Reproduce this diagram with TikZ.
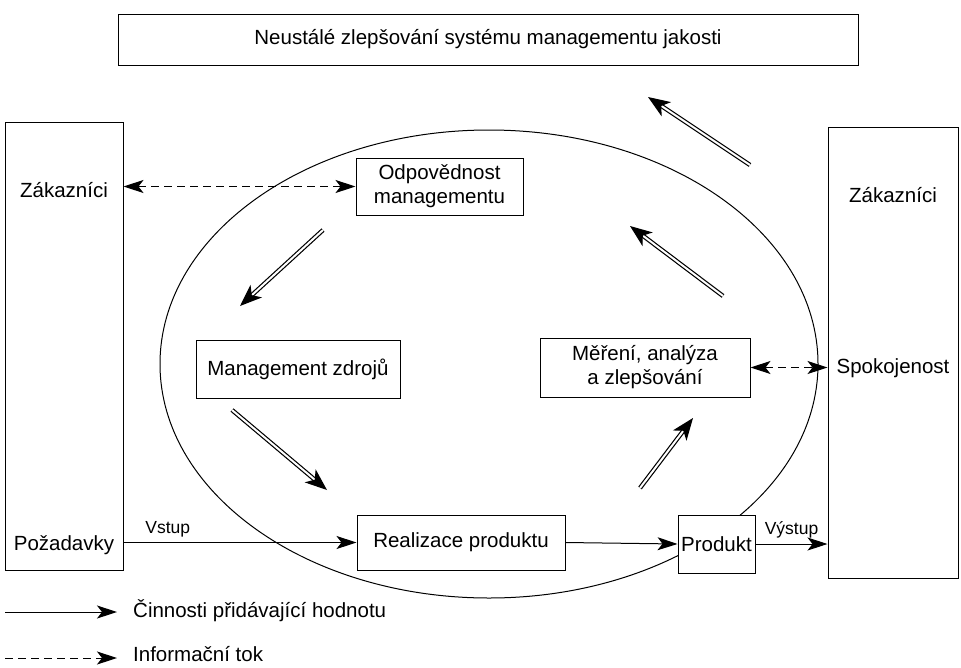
\documentclass[tikz,border=0pt]{standalone}
\usepackage{fontspec}
\setmainfont{Liberation Sans}
\usetikzlibrary{arrows.meta}

\begin{document}
\begin{tikzpicture}[x=1pt,y=-1pt,
		box/.style={draw, line width=1pt, fill=white, inner sep=0pt, align=center},
		txt/.style={inner sep=0pt, align=center},
		tip/.style={-{Stealth[length=20pt,width=13pt,inset=5pt]}},
		dtip/.style={{Stealth[length=20pt,width=13pt,inset=5pt]}-{Stealth[length=20pt,width=13pt,inset=5pt]}},
		info/.style={dash pattern=on 8pt off 5pt},
		dbl/.style={double, double distance=2pt, line width=1.2pt, -{Stealth[length=22pt,width=17pt,inset=6pt]}}]
	\fontsize{20.5}{24}\selectfont
	\useasboundingbox (0,0) rectangle (961,667);
	\draw[line width=1pt] (489,364) ellipse [x radius=329, y radius=234];
	\node[box, minimum width=740, minimum height=51] (top) at (488,39.5) {Neustálé zlepšování systému managementu jakosti};
	\node[box, minimum width=118, minimum height=448] (custL) at (64,346) {};
	\node[box, minimum width=130, minimum height=451] (custR) at (893,352.5) {};
	\node[txt] (zakL) at (64,190) {Zákazníci};
	\node[txt] (pozad) at (64,545) {Požadavky};
	\node[txt] (zakR) at (893,195) {Zákazníci};
	\node[txt] (spok) at (893,368) {Spokojenost};
	\node[box, minimum width=167, minimum height=57] (odp) at (439.5,186.5) {Odpovědnost\\managementu};
	\node[box, minimum width=204, minimum height=58] (mzdr) at (298,369) {Management zdrojů};
	\node[box, minimum width=210, minimum height=59] (mer) at (645,367.5) {Měření, analýza\\a zlepšování};
	\node[box, minimum width=208, minimum height=55] (real) at (461,542.5) {Realizace produktu};
	\node[box, minimum width=77, minimum height=58] (prod) at (716.5,544) {Produkt};
	% informacni toky
	\draw[info, dtip, line width=1pt] (custL.east |- odp.west) -- (odp.west);
	\draw[info, dtip, line width=1pt] (mer.east) -- (custR.west |- mer.east);
	% cinnosti
	\draw[tip, line width=1pt] (custL.east |- real.west) -- node[pos=0.19, above=5pt, txt]{\fontsize{17.5}{20}\selectfont Vstup} (real.west);
	\draw[tip, line width=1pt] (real.east) -- (prod.west);
	\draw[tip, line width=1pt] (prod.east) -- node[midway, above=5pt, txt]{\fontsize{17.5}{20}\selectfont Výstup} (custR.west |- prod.east);
	% zlepsovani
	\coordinate (a1) at (750,165); \coordinate (b1) at (648,97);
	\coordinate (a2) at (323,230); \coordinate (b2) at (240,306);
	\coordinate (a3) at (232,410); \coordinate (b3) at (327,490);
	\coordinate (a4) at (640,488); \coordinate (b4) at (693,418);
	\coordinate (a5) at (723,296); \coordinate (b5) at (630,226);
	\foreach \i in {1,...,5}
		\draw[dbl] (a\i) -- (b\i);
	% legenda
	\coordinate (l1) at (5,612); \coordinate (l2) at (117,612);
	\coordinate (l3) at (5,658); \coordinate (l4) at (117,658);
	\draw[tip, line width=1pt] (l1) -- (l2);
	\draw[tip, info, line width=1pt] (l3) -- (l4);
	\node[txt, anchor=west] (leg1) at (133,611) {Činnosti přidávající hodnotu};
	\node[txt, anchor=west] (leg2) at (133,654) {Informační tok};
\end{tikzpicture}
\end{document}
